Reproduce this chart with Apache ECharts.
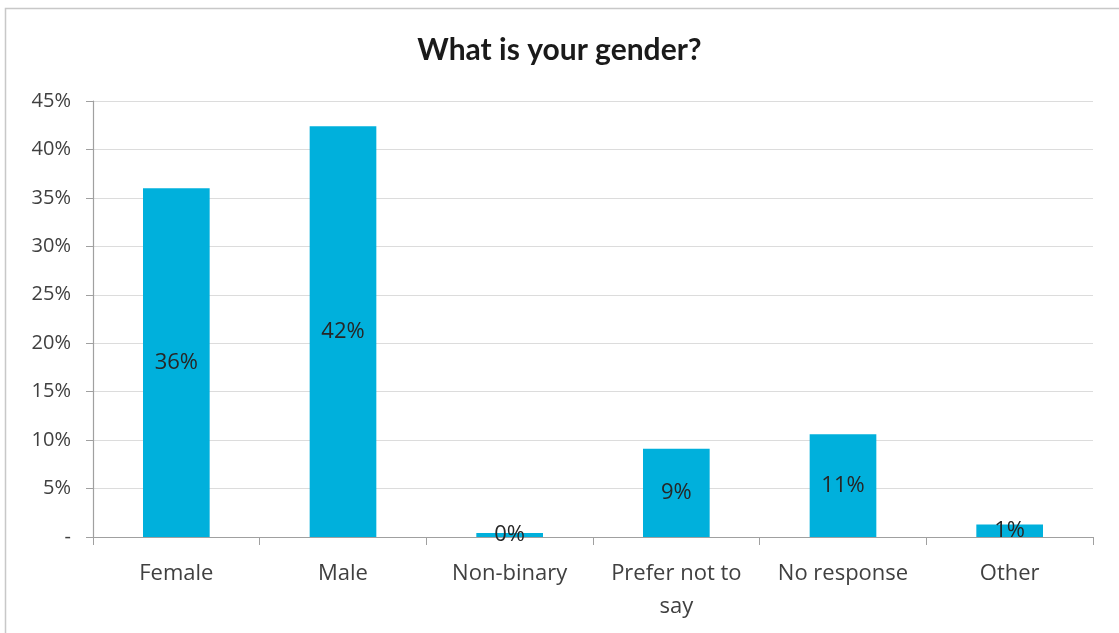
<!DOCTYPE html>
<html>
<head>
<meta charset="utf-8">
<script src="https://cdn.jsdelivr.net/npm/echarts@6/dist/echarts.min.js"></script>
<style>
  html, body { margin: 0; padding: 0; background: #ffffff; }
  #chart { width: 1119px; height: 633px; }
</style>
</head>
<body>
<div id="chart"></div>
<script>
// Survey question: share of respondents by gender
const titleText = 'What is your gender?';
const categories = ['Female', 'Male', 'Non-binary', 'Prefer not to\nsay', 'No response', 'Other'];
const shares = [0.360, 0.424, 0.004, 0.091, 0.106, 0.013];
const yTicks = [0, 0.05, 0.10, 0.15, 0.20, 0.25, 0.30, 0.35, 0.40, 0.45];

const chart = echarts.init(document.getElementById('chart'), null, { renderer: 'canvas' });

const fmtTick = v => (Math.abs(v) < 1e-9 ? '-' : Math.round(v * 100) + '%');

chart.setOption({
  backgroundColor: '#ffffff',
  animation: false,
  title: {
    text: titleText,
    left: 'center',
    top: 30,
    textStyle: { fontFamily: 'Lato', fontWeight: 'bold', fontSize: 30, color: '#1a1a1a' }
  },
  graphic: [{
    type: 'rect',
    shape: { x: 5.5, y: 8.5, width: 1200, height: 700 },
    style: { fill: 'none', stroke: '#c8c8c8', lineWidth: 1.5 },
    silent: true
  }],
  grid: { left: 93, right: 26, top: 101, bottom: 96, containLabel: false },
  xAxis: {
    type: 'category',
    data: categories,
    axisLine: { lineStyle: { color: '#a0a0a0', width: 1.2 } },
    axisTick: { show: true, length: 8, alignWithLabel: false, lineStyle: { color: '#a0a0a0' } },
    axisLabel: {
      fontFamily: 'Open Sans', fontSize: 22, color: '#404040',
      margin: 20, lineHeight: 33, interval: 0
    }
  },
  yAxis: {
    type: 'value',
    min: yTicks[0],
    max: yTicks[yTicks.length - 1],
    interval: yTicks[1] - yTicks[0],
    axisLine: { show: true, lineStyle: { color: '#a0a0a0', width: 1.2 } },
    axisTick: { show: true, length: 7, lineStyle: { color: '#a0a0a0' } },
    splitLine: { lineStyle: { color: '#dcdcdc', width: 1.2 } },
    axisLabel: {
      fontFamily: 'Open Sans', fontSize: 20, color: '#404040', margin: 22,
      formatter: fmtTick
    }
  },
  series: [{
    type: 'bar',
    data: shares,
    barWidth: '40%',
    itemStyle: { color: '#00b0dc' },
    label: {
      show: true,
      position: 'inside',
      fontFamily: 'Open Sans', fontSize: 22, color: '#262626',
      formatter: p => Math.round(p.value * 100) + '%'
    }
  }]
});
</script>
</body>
</html>
